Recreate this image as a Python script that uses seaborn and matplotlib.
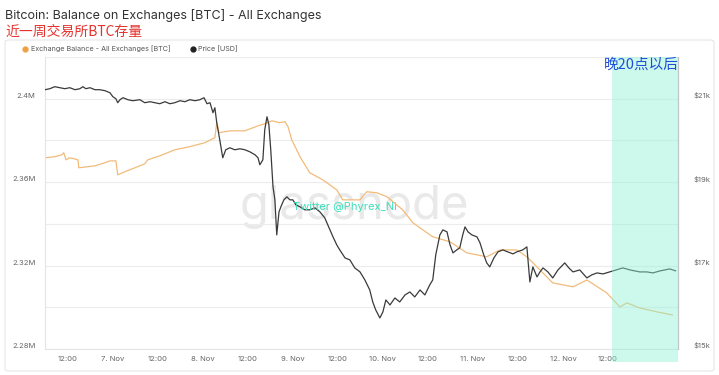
import numpy as np
import pandas as pd
import matplotlib
matplotlib.use("Agg")
import matplotlib.pyplot as plt
import matplotlib.dates as mdates
import matplotlib.transforms as mtransforms
from matplotlib.patches import Rectangle, FancyBboxPatch
from matplotlib.lines import Line2D
from matplotlib.ticker import FuncFormatter
import seaborn as sns

# Datos (horas desde 2022-11-06 00:00)
START = pd.Timestamp("2022-11-06 00:00")

bal_hours = [5.9, 8.5, 10.4, 10.9, 11.5, 12.5, 14.7, 14.9, 19.2, 21.9, 23.2, 24.8,
             25.3, 27.2, 29.9, 32.5, 33.3, 36.5, 40.5, 44.5, 48.5, 51.2, 51.7, 52.3,
             55.2, 59.2, 62.7, 64.5, 66.4, 68.5, 69.9, 70.7, 71.7, 73.9, 76.5, 80.0,
             83.7, 85.3, 89.9, 91.7, 94.4, 97.1, 101.3, 104.0, 109.3, 113.9, 118.4,
             123.7, 127.2, 131.7, 134.4, 137.9, 141.3, 146.7, 150.4, 155.7, 159.2,
             161.1, 164.5, 169.1, 173.3]
bal_values = [2.3717, 2.3722, 2.3731, 2.3741, 2.3707, 2.3717, 2.3707, 2.3669, 2.3678,
              2.3693, 2.3702, 2.3702, 2.3635, 2.3650, 2.3669, 2.3688, 2.3707, 2.3726,
              2.3755, 2.3770, 2.3789, 2.3813, 2.3885, 2.3837, 2.3846, 2.3846, 2.3870,
              2.3880, 2.3894, 2.3885, 2.3890, 2.3866, 2.3803, 2.3722, 2.3645, 2.3611,
              2.3563, 2.3515, 2.3515, 2.3554, 2.3549, 2.3530, 2.3467, 2.3405, 2.3338,
              2.3314, 2.3261, 2.3242, 2.3275, 2.3275, 2.3242, 2.3179, 2.3117, 2.3098,
              2.3131, 2.3069, 2.3002, 2.3021, 2.2997, 2.2978, 2.2963]  # millones BTC

price_hours = [5.9, 7.2, 8.5, 9.9, 11.2, 12.5, 13.9, 15.2, 16.0, 16.8, 17.9, 19.2,
               20.5, 21.9, 23.2, 24.0, 24.8, 25.3, 25.9, 26.7, 28.0, 29.3, 31.2, 32.5,
               33.9, 35.2, 36.5, 37.9, 39.2, 40.5, 41.9, 43.2, 44.5, 45.9, 47.2, 48.3,
               49.1, 49.9, 50.7, 51.2, 51.7, 52.5, 53.3, 54.1, 55.2, 56.5, 57.9, 59.2,
               60.5, 61.9, 62.7, 63.2, 64.0, 64.5, 65.1, 65.6, 66.1, 66.7, 67.2, 67.7,
               68.3, 68.8, 69.6, 70.4, 71.2, 72.0, 72.8, 73.9, 75.2, 76.5, 77.9, 79.2,
               80.5, 81.9, 82.7, 83.7, 84.5, 85.9, 87.2, 88.5, 89.9, 91.2, 92.5, 93.3,
               94.1, 95.2, 96.0, 96.8, 97.9, 99.2, 100.5, 101.9, 103.2, 104.5, 105.9,
               107.2, 108.5, 109.3, 110.1, 111.2, 112.0, 113.1, 113.9, 114.7, 115.7,
               116.5, 117.3, 117.9, 118.7, 119.7, 121.1, 121.9, 122.9, 123.7, 124.5,
               125.6, 126.7, 128.0, 129.3, 130.7, 131.7, 133.3, 134.4, 134.7, 135.2,
               136.0, 137.1, 137.9, 138.7, 140.0, 141.3, 142.7, 144.5, 145.6, 146.7,
               148.5, 150.4, 151.7, 153.1, 154.7, 156.5, 158.4, 160.0, 161.9, 164.5,
               166.4, 168.0, 169.9, 172.5, 174.1]
price_values = [21216, 21240, 21288, 21264, 21240, 21264, 21216, 21240, 21288, 21240,
                21264, 21216, 21216, 21192, 21144, 21048, 21000, 20904, 20976, 21024,
                20976, 20952, 20976, 20904, 20928, 20904, 20880, 20928, 20880, 20904,
                20952, 20928, 20976, 20952, 20976, 21024, 20880, 20904, 20664, 20784,
                20424, 20016, 19584, 19776, 19824, 19776, 19800, 19776, 19728, 19656,
                19584, 19416, 19536, 20256, 20568, 20376, 19776, 18888, 18576, 17736,
                18288, 18408, 18576, 18648, 18576, 18576, 18456, 18408, 18336, 18336,
                18384, 18288, 18144, 17856, 17688, 17496, 17376, 17184, 17136, 16944,
                16848, 16656, 16416, 16128, 15936, 15744, 15888, 16176, 16056, 16224,
                16128, 16296, 16368, 16248, 16416, 16296, 16536, 16656, 17256, 17736,
                17856, 17808, 17496, 17304, 17376, 17424, 17736, 17928, 17808, 17736,
                17688, 17544, 17256, 17064, 16968, 17184, 17328, 17376, 17328, 17280,
                17328, 17376, 17448, 17136, 16608, 16968, 16728, 16848, 16944, 16848,
                16704, 16896, 17064, 16944, 16848, 16896, 16704, 16776, 16824, 16800,
                16848, 16896, 16944, 16896, 16848, 16848, 16824, 16872, 16920, 16872]

band_start_hour = 157      # "晚20点以后"
x_range_hours = (5.9, 174.7)

ORANGE = "#f2bb7a"
ORANGE_DOT = "#f0a040"
DARK = "#3a3a3a"
GRID = "#ececec"
TICK = "#666666"

sns.set_style("white")
plt.rcParams["font.family"] = ["Inter", "Noto Sans CJK SC", "DejaVu Sans"]

df_bal = pd.DataFrame({"time": START + pd.to_timedelta(bal_hours, unit="h"),
                       "balance": np.array(bal_values) * 1e6})
df_price = pd.DataFrame({"time": START + pd.to_timedelta(price_hours, unit="h"),
                         "price": price_values})

fig = plt.figure(figsize=(7.19, 3.75), dpi=100)
ax = fig.add_axes([45 / 719, 1 - 349 / 375, 633 / 719, 292 / 375])
ax2 = ax.twinx()

sns.lineplot(data=df_bal, x="time", y="balance", ax=ax, color=ORANGE, lw=0.9)
sns.lineplot(data=df_price, x="time", y="price", ax=ax2, color=DARK, lw=0.9)

# eje X
to_num = lambda h: mdates.date2num((START + pd.Timedelta(hours=h)).to_pydatetime())
ax.set_xlim(to_num(x_range_hours[0]), to_num(x_range_hours[1]))
tick_times = [START + pd.Timedelta(hours=12 * k) for k in range(1, 14)]
ax.set_xticks([mdates.date2num(t.to_pydatetime()) for t in tick_times])
ax.set_xticklabels(["12:00" if t.hour == 12 else f"{t.day}. Nov" for t in tick_times])
ax.tick_params(axis="x", length=0, pad=5, labelsize=5.5, labelcolor=TICK)

# eje Y izquierdo (balance)
ax.set_ylim(2.28e6, 2.42e6)
ax.set_yticks(np.arange(2.28e6, 2.4201e6, 0.02e6))
ax.yaxis.set_major_formatter(FuncFormatter(
    lambda v, _: f"{v / 1e6:g}M" if round(v / 1e4) % 4 == 0 else ""))
ax.tick_params(axis="y", length=0, pad=7, labelsize=5.5, labelcolor=TICK)
ax.grid(axis="y", color=GRID, lw=0.8)
ax.grid(axis="x", visible=False)

# eje Y derecho (precio)
ax2.set_ylim(15000, 22000)
ax2.set_yticks([15000, 17000, 19000, 21000])
ax2.yaxis.set_major_formatter(FuncFormatter(lambda v, _: f"${v / 1000:.0f}k"))
ax2.tick_params(axis="y", length=0, pad=11, labelsize=5.5, labelcolor=TICK)
ax2.grid(False)

for a in (ax, ax2):
    a.set_xlabel("")
    a.set_ylabel("")
plt.setp(ax.get_yticklabels(), va="bottom")
plt.setp(ax2.get_yticklabels(), va="bottom")

ax.spines["top"].set_visible(False)
ax.spines["right"].set_visible(False)
ax.spines["left"].set_color("#e4e4e4")
ax.spines["bottom"].set_color("#e4e4e4")
for s in ("top", "left", "bottom"):
    ax2.spines[s].set_visible(False)
ax2.spines["right"].set_color("#c4c4c4")
ax2.spines["right"].set_linewidth(0.9)

# marcas de agua (en el original se solapan a propósito)
ax.text(0.488, 0.486, "glassnode", transform=ax.transAxes, fontsize=34,
        color="#e9e9e9", ha="center", va="center", zorder=0)
ax2.text(0.474, 0.485, "Twitter @Phyrex_Ni", transform=ax.transAxes, fontsize=8,
         color="#3ddfbb", ha="center", va="center", zorder=11)

# franja "después de las 20h"
trans = mtransforms.blended_transform_factory(ax2.transData, ax2.transAxes)
x0 = to_num(band_start_hour)
ax2.add_patch(Rectangle((x0, -0.045), to_num(x_range_hours[1]) - x0, 1.045,
                        transform=trans, clip_on=False, facecolor="#8cf3d7",
                        alpha=0.43, lw=0, zorder=10))
fig.text(604 / 719, 1 - 65 / 375, "晚20点以后", color="#1f4fd8", fontsize=10.5,
         ha="left", va="center", family=["Noto Sans CJK SC", "DejaVu Sans"])

# títulos
fig.text(5 / 719, 1 - 16 / 375, "Bitcoin: Balance on Exchanges [BTC] - All Exchanges",
         fontsize=9, color="#333333", ha="left", va="center")
fig.text(5 / 719, 1 - 32 / 375, "近一周交易所BTC存量", fontsize=10, color="#e5322d",
         ha="left", va="center", family=["Noto Sans CJK SC", "DejaVu Sans"])

# leyenda
handles = [Line2D([], [], marker="o", ls="", color=ORANGE_DOT, ms=3.5,
                  label="Exchange Balance - All Exchanges [BTC]"),
           Line2D([], [], marker="o", ls="", color="#222222", ms=3.5,
                  label="Price [USD]")]
fig.legend(handles=handles, loc="center left", bbox_to_anchor=(16 / 719, 1 - 49 / 375),
           ncol=2, frameon=False, fontsize=5.2, handlelength=0.8, handletextpad=0.4,
           columnspacing=2.6, labelcolor="#555555", borderpad=0.4)

# borde de la tarjeta
fig.add_artist(FancyBboxPatch((5 / 719, 1 - 371 / 375), 709 / 719, 331 / 375,
                              boxstyle="round,pad=0,rounding_size=0.006",
                              transform=fig.transFigure, fill=False,
                              edgecolor="#e6e6e6", lw=0.8))

fig.savefig("out.png", dpi=100)
